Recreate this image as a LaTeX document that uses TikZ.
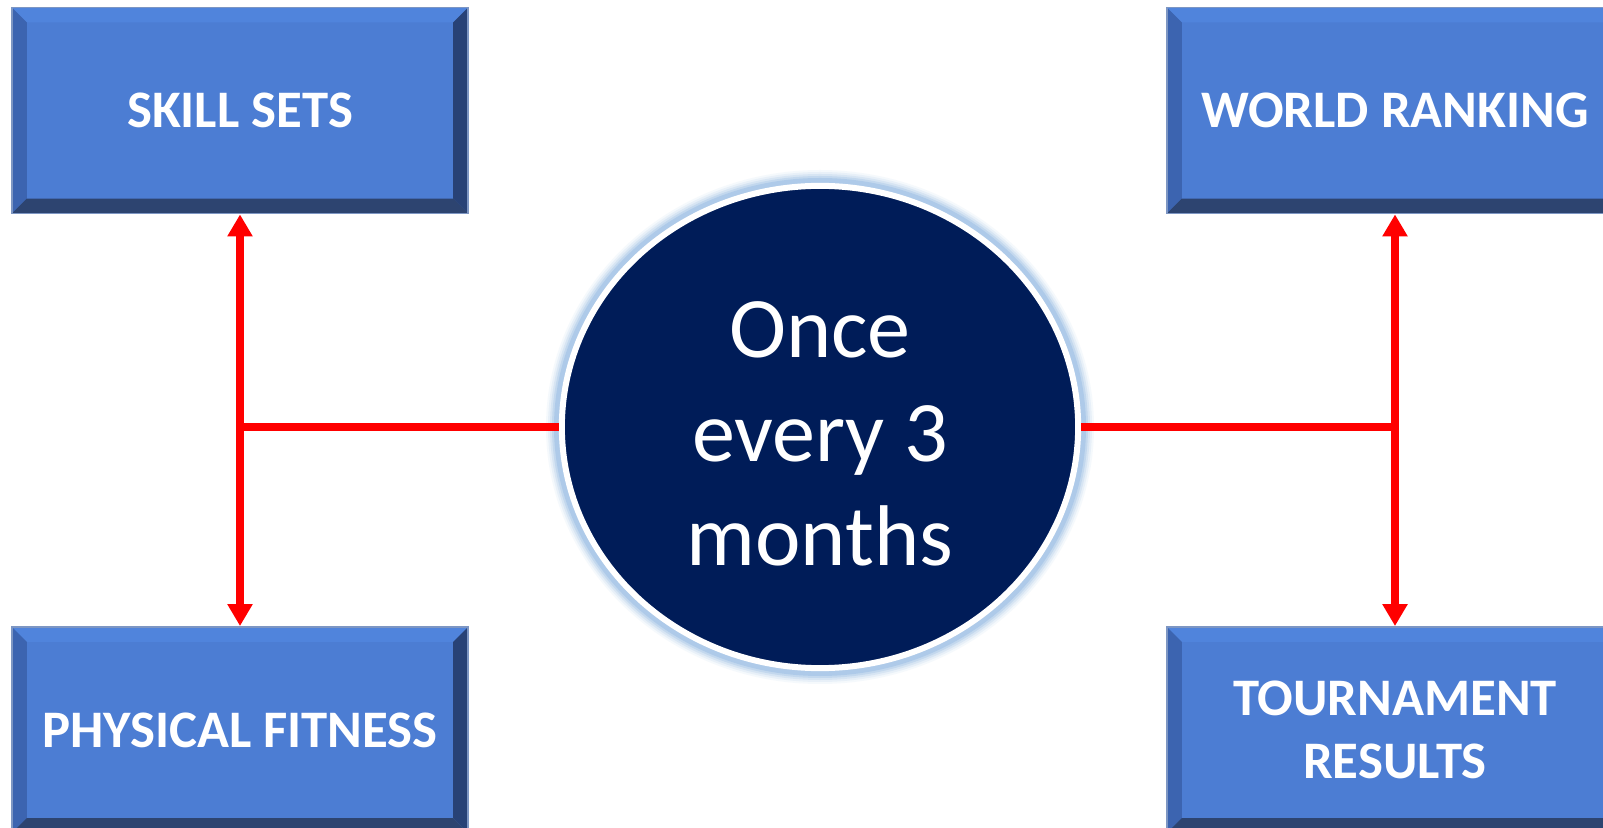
\documentclass[tikz,border=0pt]{standalone}
\usepackage{fontspec}
\setmainfont{Carlito}
\usetikzlibrary{arrows.meta,shapes.geometric,calc}
\definecolor{boxface}{RGB}{76,125,211}
\definecolor{bevtop}{RGB}{80,132,220}
\definecolor{bevleft}{RGB}{60,100,176}
\definecolor{bevright}{RGB}{40,66,118}
\definecolor{bevbottom}{RGB}{45,68,112}
\definecolor{boxline}{RGB}{125,150,195}
\definecolor{navy}{RGB}{0,28,88}
\definecolor{glow}{RGB}{140,180,225}
\definecolor{arrowred}{RGB}{255,0,0}
\tikzset{
  x=0.01cm, y=0.01cm,
  bevelbox/.style={
    rectangle, minimum width=4.56cm, minimum height=2.06cm,
    fill=boxface, draw=boxline, line width=0.5pt,
    text=white, font=\bfseries\fontsize{15}{18}\selectfont,
    align=center, inner sep=0pt,
    path picture={
      \def\bb{path picture bounding box}
      \fill[bevtop] (\bb.north west) -- (\bb.north east) -- ([shift={(-15,-15)}]\bb.north east) -- ([shift={(15,-15)}]\bb.north west) -- cycle;
      \fill[bevleft] (\bb.north west) -- ([shift={(15,-15)}]\bb.north west) -- ([shift={(15,15)}]\bb.south west) -- (\bb.south west) -- cycle;
      \fill[bevright] (\bb.north east) -- ([shift={(-15,-15)}]\bb.north east) -- ([shift={(-15,15)}]\bb.south east) -- (\bb.south east) -- cycle;
      \fill[bevbottom] (\bb.south west) -- ([shift={(15,15)}]\bb.south west) -- ([shift={(-15,15)}]\bb.south east) -- (\bb.south east) -- cycle;
    }
  },
  hubnode/.style={
    ellipse, minimum width=5.16cm, minimum height=4.82cm, inner sep=0pt,
    fill=navy, draw=white, line width=0.06cm
  },
  hubtext/.style={
    text=white, font=\fontsize{24.5}{29.5}\selectfont, align=center, inner sep=0pt
  },
  redline/.style={draw=arrowred, line width=0.08cm},
  redtip/.style={redline, {Triangle[width=0.24cm,length=0.22cm]}-{Triangle[width=0.24cm,length=0.22cm]}}
}
\begin{document}
\begin{tikzpicture}
\useasboundingbox (0,0) rectangle (1603,827);
\clip (0,0) rectangle (1603,827);
\fill[white] (0,0) rectangle (1603,827);
% glow around the hub
\foreach \r/\o in {13/0.08,11/0.12,9/0.18,7/0.26,5/0.38} {
  \fill[glow, opacity=\o] (820,400) ellipse ({261+\r} and {244+\r});
}
\node[bevelbox] (skill) at (240,716.5) {SKILL SETS};
\node[bevelbox] (phys) at (240,97) {PHYSICAL FITNESS};
\node[bevelbox] (world) at (1395,716.5) {WORLD RANKING};
\node[bevelbox] (tour) at (1395,97) {TOURNAMENT\\RESULTS};
\node[hubnode] (hub) at (820,400) {};
\node[hubtext] (hubtxt) at (820,393) {Once\\every 3\\months};
\coordinate (jl) at (240,400);
\coordinate (jr) at (1395,400);
\draw[redtip] (skill.south) -- (phys.north);
\draw[redtip] (world.south) -- (tour.north);
\draw[redline] (jl) -- (hub.west);
\draw[redline] (hub.east) -- (jr);
\end{tikzpicture}
\end{document}
